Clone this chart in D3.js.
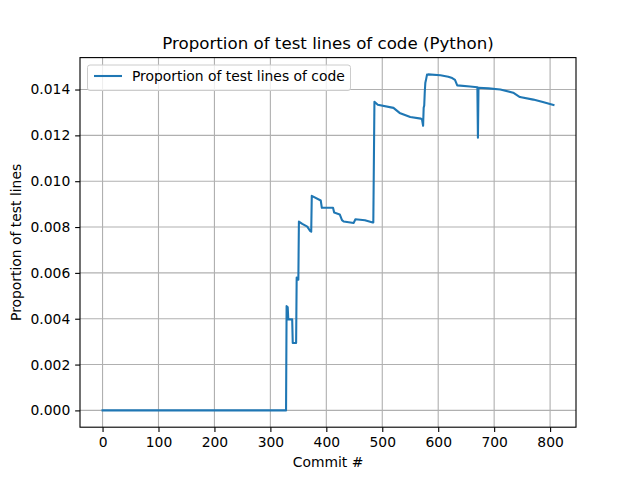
<!DOCTYPE html>
<html><head><meta charset="utf-8">
<script src="https://cdn.jsdelivr.net/npm/d3@7"></script>
<style>body{margin:0;background:#fff}svg{display:block;font-family:"DejaVu Sans",sans-serif}</style>
</head><body><svg id="c" width="640" height="480"></svg>
<script>
const commits = [0, 328, 329, 331, 332, 339, 340, 346, 347, 348, 350, 351, 357, 366, 371, 373, 374, 390, 392, 412, 414, 424, 428, 431, 449, 452, 469, 483, 484, 486, 492, 520, 531, 550, 569, 571, 573, 574, 575, 576, 577, 578, 580, 582, 604, 618, 625, 630, 634, 657, 670, 671, 672, 690, 711, 734, 746, 770, 787, 806];
const values = [0, 0, 0.00455, 0.0045, 0.00397, 0.00397, 0.00294, 0.00294, 0.0058, 0.0057, 0.0057, 0.00824, 0.00814, 0.00802, 0.00783, 0.0078, 0.00936, 0.00916, 0.00884, 0.00884, 0.00863, 0.00855, 0.0083, 0.00824, 0.00818, 0.00834, 0.0083, 0.0082, 0.0082, 0.01347, 0.01334, 0.0132, 0.01298, 0.0128, 0.01273, 0.0127, 0.01242, 0.0132, 0.0133, 0.0139, 0.0143, 0.0144, 0.01465, 0.01466, 0.01462, 0.01456, 0.0145, 0.01442, 0.01418, 0.01413, 0.0141, 0.0119, 0.01408, 0.01405, 0.014, 0.01386, 0.01367, 0.01356, 0.01346, 0.01333];
const xTicks = [0, 100, 200, 300, 400, 500, 600, 700, 800];
const yTicks = [0, 0.002, 0.004, 0.006, 0.008, 0.010, 0.012, 0.014];
const title = "Proportion of test lines of code (Python)";
const xLabel = "Commit #";
const yLabel = "Proportion of test lines";
const seriesName = "Proportion of test lines of code";

const L = 80, R = 576, T = 57.6, B = 427.2;
const svg = d3.select("#c");
const xe = d3.extent(commits), ye = d3.extent(values);
const xp = (xe[1]-xe[0])*0.05, yp = (ye[1]-ye[0])*0.05;
const x = d3.scaleLinear().domain([xe[0]-xp, xe[1]+xp]).range([L, R]);
const y = d3.scaleLinear().domain([ye[0]-yp, ye[1]+yp]).range([B, T]);

// grid
svg.append("g").selectAll("line").data(xTicks).join("line")
  .attr("x1", d => x(d)).attr("x2", d => x(d)).attr("y1", T).attr("y2", B)
  .attr("stroke", "#b0b0b0").attr("stroke-width", 0.8*100/72);
svg.append("g").selectAll("line").data(yTicks).join("line")
  .attr("y1", d => y(d)).attr("y2", d => y(d)).attr("x1", L).attr("x2", R)
  .attr("stroke", "#b0b0b0").attr("stroke-width", 0.8*100/72);

// line
const data = commits.map((c, i) => [c, values[i]]);
svg.append("path").datum(data)
  .attr("d", d3.line().x(d => x(d[0])).y(d => y(d[1])))
  .attr("fill", "none").attr("stroke", "#1f77b4").attr("stroke-width", 1.5*100/72)
  .attr("stroke-linejoin", "round").attr("stroke-linecap", "square");

// axes
const fs = 10*100/72;
const xa = svg.append("g").attr("transform", `translate(0,${B})`)
  .call(d3.axisBottom(x).tickValues(xTicks).tickFormat(d3.format("d")).tickSize(3.5*100/72).tickPadding(3.5*100/72));
const ya = svg.append("g").attr("transform", `translate(${L},0)`)
  .call(d3.axisLeft(y).tickValues(yTicks).tickFormat(d3.format(".3f")).tickSize(3.5*100/72).tickPadding(3.5*100/72));
[xa, ya].forEach(a => {
  a.select(".domain").remove();
  a.selectAll("line").attr("stroke", "#000").attr("stroke-width", 0.8*100/72);
  a.selectAll("text").attr("font-size", fs).attr("font-family", "DejaVu Sans").attr("fill", "#000");
});
svg.append("rect").attr("x", L).attr("y", T).attr("width", R-L).attr("height", B-T)
  .attr("fill", "none").attr("stroke", "#000").attr("stroke-width", 0.8*100/72);

// labels
svg.append("text").attr("x", (L+R)/2).attr("y", 49).attr("text-anchor", "middle")
  .attr("font-size", 12*100/72).text(title);
svg.append("text").attr("x", (L+R)/2).attr("y", 467).attr("text-anchor", "middle")
  .attr("font-size", fs).text(xLabel);
svg.append("text").attr("transform", `translate(21,${(T+B)/2}) rotate(-90)`).attr("text-anchor", "middle")
  .attr("font-size", fs).text(yLabel);

// legend
const lg = svg.append("g");
lg.append("rect").attr("x", 87.5).attr("y", 65).attr("width", 263).attr("height", 25.5).attr("rx", 2.5)
  .attr("fill", "#fff").attr("fill-opacity", 0.8).attr("stroke", "#cccccc").attr("stroke-width", 1);
lg.append("line").attr("x1", 94).attr("x2", 122).attr("y1", 76).attr("y2", 76)
  .attr("stroke", "#1f77b4").attr("stroke-width", 1.5*100/72);
lg.append("text").attr("x", 132).attr("y", 81).attr("font-size", fs).text(seriesName);
</script></body></html>
